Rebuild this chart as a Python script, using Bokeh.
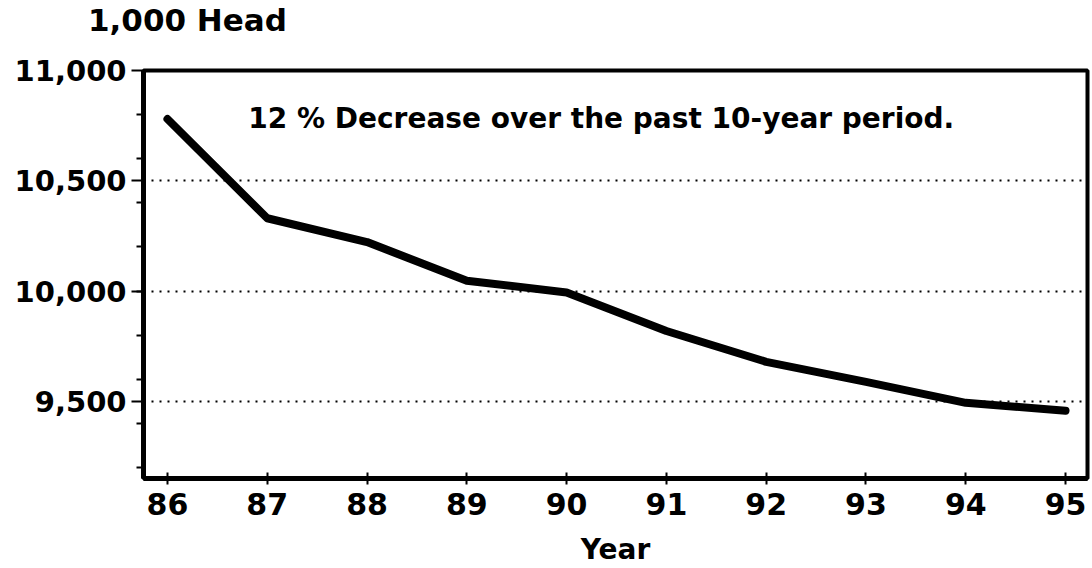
from bokeh.plotting import figure
from bokeh.models import FixedTicker, Label, NumeralTickFormatter, Range1d, Div
from bokeh.layouts import column
from bokeh.embed import file_html
from bokeh.resources import INLINE

years = [86, 87, 88, 89, 90, 91, 92, 93, 94, 95]
head = [10780, 10330, 10222, 10047, 9993, 9819, 9679, 9588, 9493, 9457]
y_major = [9500, 10000, 10500, 11000]
y_minor = [9200, 9400, 9600, 9800, 10000, 10200, 10400, 10600, 10800]
note = "12 % Decrease over the past 10-year period."
unit_title = "1,000 Head"
x_title = "Year"

FONT = "DejaVu Sans"

head_div = Div(text=unit_title, width=400, height=40, margin=(0, 0, 0, 88),
               styles={"font-family": FONT, "font-weight": "bold", "font-size": "31px",
                       "line-height": "40px", "color": "black", "white-space": "nowrap"})

p = figure(width=1092, height=528, output_backend="svg", toolbar_location=None,
           x_range=Range1d(85.76, 95.22), y_range=Range1d(9150, 11000),
           min_border_left=143, min_border_right=5, min_border_top=30,
           min_border_bottom=88)

p.background_fill_color = "white"
p.border_fill_color = "white"
p.outline_line_color = "black"
p.outline_line_width = 4

p.xgrid.grid_line_color = None
p.ygrid.ticker = FixedTicker(ticks=[9500, 10000, 10500])
p.ygrid.grid_line_color = "black"
p.ygrid.grid_line_dash = "2 6"
p.ygrid.grid_line_width = 1.8

ya = p.yaxis[0]
ya.ticker = FixedTicker(ticks=y_major, minor_ticks=y_minor)
ya.formatter = NumeralTickFormatter(format="0,0")
ya.axis_line_width = 5
ya.axis_line_color = "black"
ya.major_tick_in = 0
ya.major_tick_out = 12
ya.major_tick_line_width = 2
ya.minor_tick_in = 0
ya.minor_tick_out = 7
ya.minor_tick_line_width = 2
ya.major_label_standoff = 5
ya.major_label_text_font = FONT
ya.major_label_text_font_style = "bold"
ya.major_label_text_font_size = "29px"
ya.major_label_text_color = "black"

xa = p.xaxis[0]
xa.ticker = FixedTicker(ticks=years, minor_ticks=[])
xa.axis_line_width = 5
xa.axis_line_color = "black"
xa.major_tick_in = 6
xa.major_tick_out = 6
xa.major_tick_line_width = 2
xa.minor_tick_line_color = None
xa.major_label_standoff = 8
xa.major_label_text_font = FONT
xa.major_label_text_font_style = "bold"
xa.major_label_text_font_size = "30px"
xa.major_label_text_color = "black"
xa.axis_label = x_title
xa.axis_label_text_font = FONT
xa.axis_label_text_font_style = "bold"
xa.axis_label_text_font_size = "28px"
xa.axis_label_text_color = "black"
xa.axis_label_standoff = 15

p.line(years, head, line_color="black", line_width=8, line_join="round", line_cap="round")

p.add_layout(Label(x=86.81, y=10783, text=note, text_font=FONT, text_font_style="bold",
                   text_font_size="28px", text_baseline="middle", text_align="left",
                   text_color="black"))

layout = column(head_div, p, spacing=0)

open("out.html", "w").write(file_html(layout, INLINE))
